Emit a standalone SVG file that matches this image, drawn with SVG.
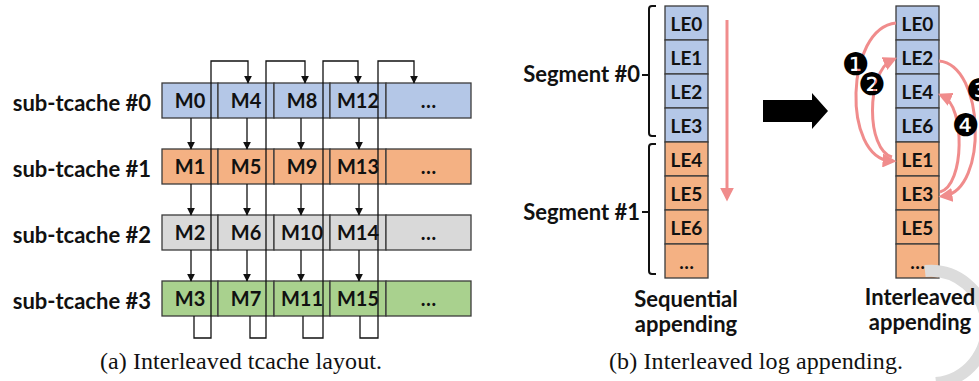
<svg xmlns="http://www.w3.org/2000/svg" width="979" height="381" viewBox="0 0 979 381">
<defs>
<style>
.c{stroke:#3b3b3b;stroke-width:1.3}
.b{fill:#B4C7E7}.o{fill:#F4B183}.g{fill:#D9D9D9}.gr{fill:#A9D18E}
.t{font-family:Lato,"Open Sans","Liberation Sans",sans-serif;font-weight:bold;fill:#111}
.ct{font-size:20px;text-anchor:middle}
.lt{font-size:19px;text-anchor:middle}
.lab{font-size:22px;text-anchor:end}
.mid{font-size:22px;text-anchor:middle}
.cap{font-family:"Liberation Serif",serif;font-size:24px;fill:#111}
.k{fill:none;stroke:#111;stroke-width:1.3}
.br{fill:none;stroke:#111;stroke-width:2}
.r{fill:none;stroke:#F08C8C;stroke-width:3}
.num{font-family:"DejaVu Sans",sans-serif;font-size:31px;text-anchor:middle;fill:#000}
</style>
<marker id="ah" viewBox="0 0 10 10" refX="9" refY="5" markerWidth="8" markerHeight="8" markerUnits="userSpaceOnUse" orient="auto"><path d="M0,0 L10,5 L0,10 z" fill="#111"/></marker>
<marker id="rh" viewBox="0 0 10 10" refX="6" refY="5" markerWidth="14" markerHeight="14" markerUnits="userSpaceOnUse" orient="auto"><path d="M0,0 L10,5 L0,10 z" fill="#F08C8C"/></marker>
</defs>

<!-- (a) row labels -->
<g id="labels-a" class="t lab">
<text x="151" y="111">sub-tcache #0</text>
<text x="151" y="177">sub-tcache #1</text>
<text x="151" y="243">sub-tcache #2</text>
<text x="151" y="309">sub-tcache #3</text>
</g>

<g id="row0">
<g id="M0"><rect class="c b" x="162" y="83" width="56" height="35"/><text class="t ct" x="190" y="108">M0</text></g>
<g id="M4"><rect class="c b" x="218" y="83" width="56" height="35"/><text class="t ct" x="246" y="108">M4</text></g>
<g id="M8"><rect class="c b" x="274" y="83" width="56" height="35"/><text class="t ct" x="302" y="108">M8</text></g>
<g id="M12"><rect class="c b" x="330" y="83" width="56" height="35"/><text class="t ct" x="358" y="108">M12</text></g>
<g id="R0more"><rect class="c b" x="386" y="83" width="85" height="35"/><text class="t ct" x="428.5" y="108">…</text></g>
</g>
<g id="row1">
<g id="M1"><rect class="c o" x="162" y="149" width="56" height="35"/><text class="t ct" x="190" y="174">M1</text></g>
<g id="M5"><rect class="c o" x="218" y="149" width="56" height="35"/><text class="t ct" x="246" y="174">M5</text></g>
<g id="M9"><rect class="c o" x="274" y="149" width="56" height="35"/><text class="t ct" x="302" y="174">M9</text></g>
<g id="M13"><rect class="c o" x="330" y="149" width="56" height="35"/><text class="t ct" x="358" y="174">M13</text></g>
<g id="R1more"><rect class="c o" x="386" y="149" width="85" height="35"/><text class="t ct" x="428.5" y="174">…</text></g>
</g>
<g id="row2">
<g id="M2"><rect class="c g" x="162" y="215" width="56" height="35"/><text class="t ct" x="190" y="240">M2</text></g>
<g id="M6"><rect class="c g" x="218" y="215" width="56" height="35"/><text class="t ct" x="246" y="240">M6</text></g>
<g id="M10"><rect class="c g" x="274" y="215" width="56" height="35"/><text class="t ct" x="302" y="240">M10</text></g>
<g id="M14"><rect class="c g" x="330" y="215" width="56" height="35"/><text class="t ct" x="358" y="240">M14</text></g>
<g id="R2more"><rect class="c g" x="386" y="215" width="85" height="35"/><text class="t ct" x="428.5" y="240">…</text></g>
</g>
<g id="row3">
<g id="M3"><rect class="c gr" x="162" y="281" width="56" height="35"/><text class="t ct" x="190" y="306">M3</text></g>
<g id="M7"><rect class="c gr" x="218" y="281" width="56" height="35"/><text class="t ct" x="246" y="306">M7</text></g>
<g id="M11"><rect class="c gr" x="274" y="281" width="56" height="35"/><text class="t ct" x="302" y="306">M11</text></g>
<g id="M15"><rect class="c gr" x="330" y="281" width="56" height="35"/><text class="t ct" x="358" y="306">M15</text></g>
<g id="R3more"><rect class="c gr" x="386" y="281" width="85" height="35"/><text class="t ct" x="428.5" y="306">…</text></g>
</g>

<g id="connectors-a" class="k">
<path d="M191 118V149" marker-end="url(#ah)"/>
<path d="M191 184V215" marker-end="url(#ah)"/>
<path d="M191 250V281" marker-end="url(#ah)"/>
<path d="M247 118V149" marker-end="url(#ah)"/>
<path d="M247 184V215" marker-end="url(#ah)"/>
<path d="M247 250V281" marker-end="url(#ah)"/>
<path d="M301 118V149" marker-end="url(#ah)"/>
<path d="M301 184V215" marker-end="url(#ah)"/>
<path d="M301 250V281" marker-end="url(#ah)"/>
<path d="M359 118V149" marker-end="url(#ah)"/>
<path d="M359 184V215" marker-end="url(#ah)"/>
<path d="M359 250V281" marker-end="url(#ah)"/>
<path d="M194 316V338H211V61H248V83" marker-end="url(#ah)"/>
<path d="M250 316V338H266V61H305V83" marker-end="url(#ah)"/>
<path d="M303 316V338H323V61H358V83" marker-end="url(#ah)"/>
<path d="M360 316V338H378V61H414V83" marker-end="url(#ah)"/>
</g>

<g id="seq">
<g id="sLE0"><rect class="c b" x="665" y="6" width="43" height="34"/><text class="t lt" x="686.5" y="31">LE0</text></g>
<g id="sLE1"><rect class="c b" x="665" y="40" width="43" height="34"/><text class="t lt" x="686.5" y="65">LE1</text></g>
<g id="sLE2"><rect class="c b" x="665" y="74" width="43" height="34"/><text class="t lt" x="686.5" y="99">LE2</text></g>
<g id="sLE3"><rect class="c b" x="665" y="108" width="43" height="34"/><text class="t lt" x="686.5" y="133">LE3</text></g>
<g id="sLE4"><rect class="c o" x="665" y="142" width="43" height="34"/><text class="t lt" x="686.5" y="167">LE4</text></g>
<g id="sLE5"><rect class="c o" x="665" y="176" width="43" height="34"/><text class="t lt" x="686.5" y="201">LE5</text></g>
<g id="sLE6"><rect class="c o" x="665" y="210" width="43" height="34"/><text class="t lt" x="686.5" y="235">LE6</text></g>
<g id="sMore"><rect class="c o" x="665" y="244" width="43" height="34"/><text class="t lt" x="686.5" y="269">…</text></g>
</g>
<g id="segments">
<path class="br" d="M656 6H652Q649 6 649 9V133Q649 136 652 136H656M649 75H642"/>
<path class="br" d="M656 144H652Q649 144 649 147V271Q649 274 652 274H656M649 212H642"/>
<text class="t lab" x="640" y="82">Segment #0</text>
<text class="t lab" x="640" y="220">Segment #1</text>
</g>

<polygon id="bigarrow" points="763,100 812,100 812,93 828,111 812,129 812,122 763,122" fill="#000"/>

<g id="inter">
<g id="iLE0"><rect class="c b" x="896" y="6" width="43" height="34"/><text class="t lt" x="917.5" y="31">LE0</text></g>
<g id="iLE2"><rect class="c b" x="896" y="40" width="43" height="34"/><text class="t lt" x="917.5" y="65">LE2</text></g>
<g id="iLE4"><rect class="c b" x="896" y="74" width="43" height="34"/><text class="t lt" x="917.5" y="99">LE4</text></g>
<g id="iLE6"><rect class="c b" x="896" y="108" width="43" height="34"/><text class="t lt" x="917.5" y="133">LE6</text></g>
<g id="iLE1"><rect class="c o" x="896" y="142" width="43" height="34"/><text class="t lt" x="917.5" y="167">LE1</text></g>
<g id="iLE3"><rect class="c o" x="896" y="176" width="43" height="34"/><text class="t lt" x="917.5" y="201">LE3</text></g>
<g id="iLE5"><rect class="c o" x="896" y="210" width="43" height="34"/><text class="t lt" x="917.5" y="235">LE5</text></g>
<g id="iMore"><rect class="c o" x="896" y="244" width="43" height="34"/><text class="t lt" x="917.5" y="269">…</text></g>
</g>

<!-- watermark -->
<path d="M925 271A56 56 0 0 1 936 383" fill="none" stroke="#dcdcdc" stroke-width="12"/>

<g id="connectors-b" class="r">
<path d="M727 20V196" marker-end="url(#rh)"/>
<path d="M896 23C845 28 842 158 891 161" marker-end="url(#rh)"/>
<path d="M892 157C866 150 866 72 892 60" marker-end="url(#rh)"/>
<path d="M939 61C985 65 988 190 944 196" marker-end="url(#rh)"/>
<path d="M940 192C965 185 965 106 943 96" marker-end="url(#rh)"/>
</g>
<g id="steps" class="num">
<text x="856" y="75">❶</text>
<text x="872" y="95">❷</text>
<text x="980" y="101">❸</text>
<text x="966" y="136">❹</text>
</g>

<g class="t mid">
<text x="686" y="307">Sequential</text>
<text x="686" y="332">appending</text>
<text x="920" y="305">Interleaved</text>
<text x="920" y="330">appending</text>
</g>

<text class="cap" x="100" y="369" textLength="282" lengthAdjust="spacing">(a) Interleaved tcache layout.</text>
<text class="cap" x="609" y="369" textLength="294" lengthAdjust="spacing">(b) Interleaved log appending.</text>
</svg>
